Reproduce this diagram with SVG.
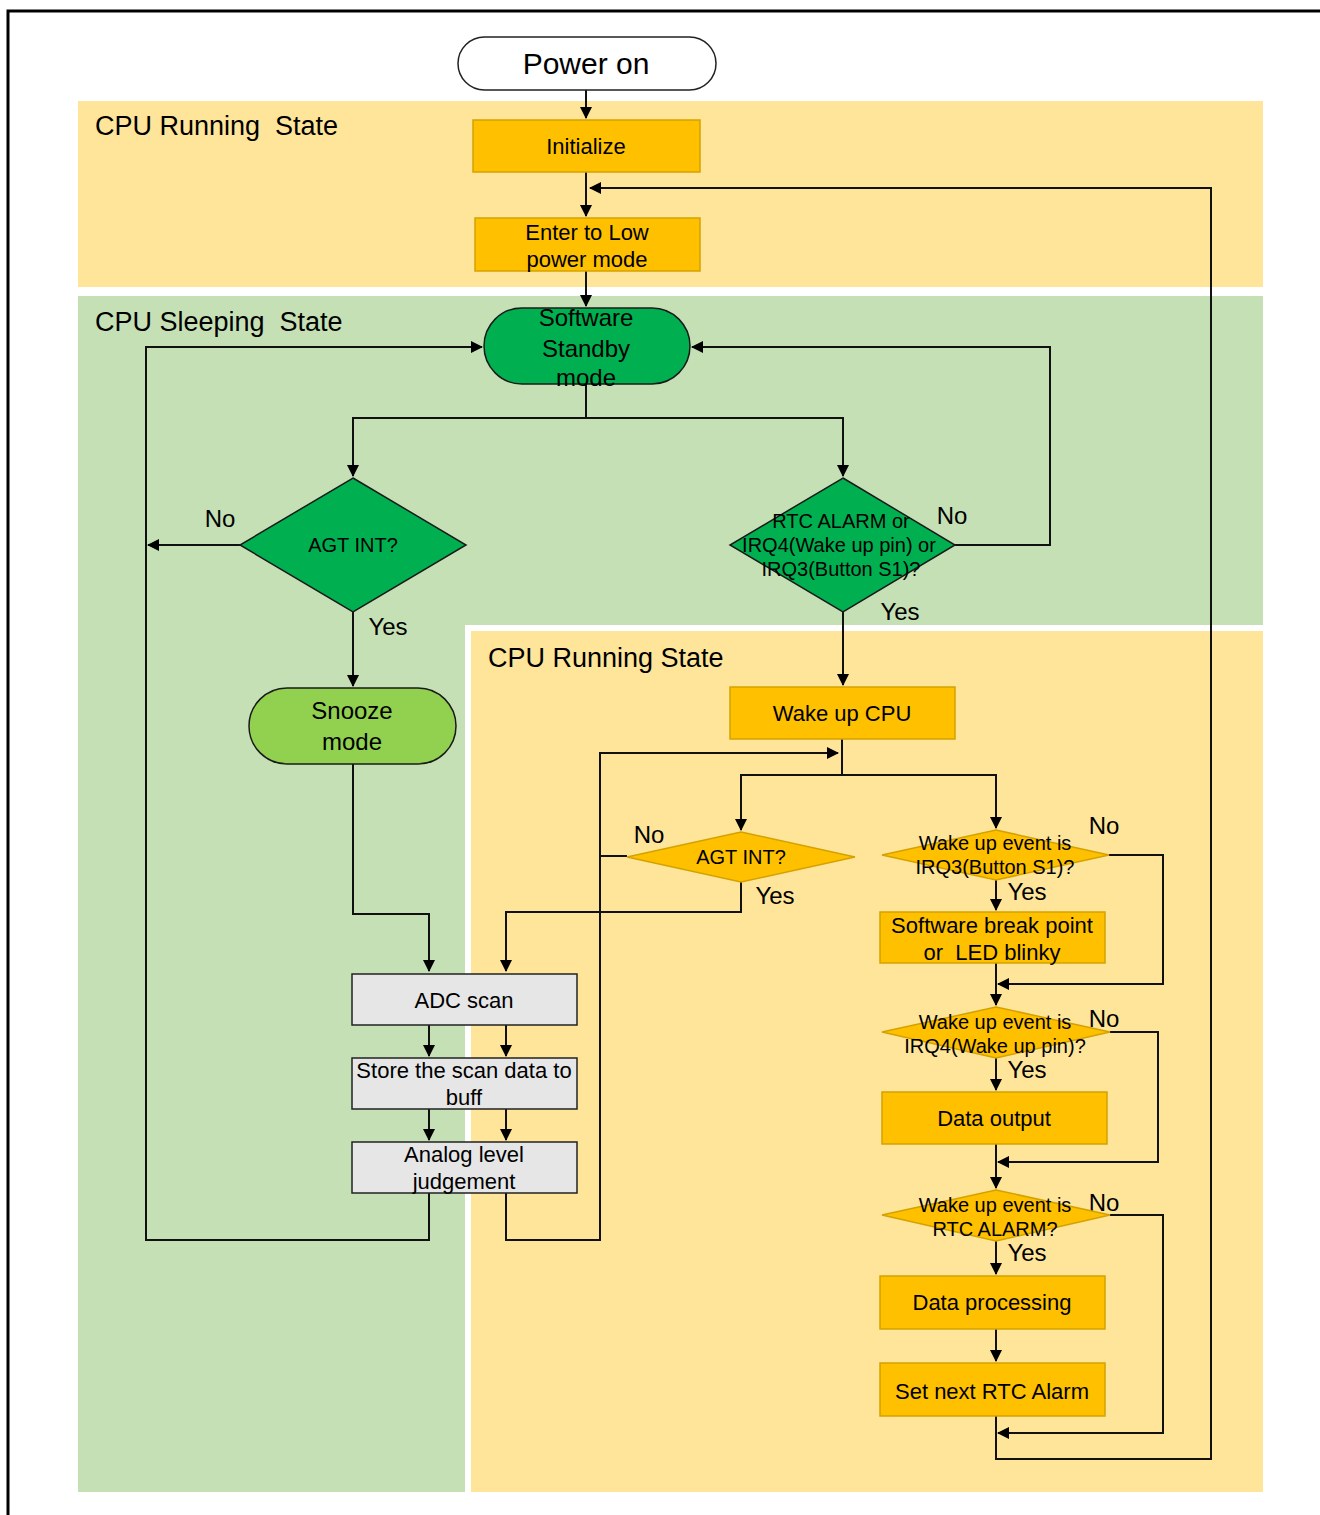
<svg xmlns="http://www.w3.org/2000/svg" width="1320" height="1515" viewBox="0 0 1320 1515">
<style>
text{font-family:"Liberation Sans",Arial,sans-serif;fill:#000;text-anchor:middle;dominant-baseline:central;white-space:pre}
.sec{font-size:27px;text-anchor:start}
.lbl{font-size:24px}
.box{font-size:22px}
.dia{font-size:20px}
.gold{fill:#FFC000;stroke:#D4A200;stroke-width:1.5}
.grey{fill:#E6E6E6;stroke:#222;stroke-width:1.5}
.green{fill:#00B050;stroke:#1a1a1a;stroke-width:1.5}
.lg{fill:#92D050;stroke:#1a1a1a;stroke-width:1.5}
.con path{fill:none;stroke:#111;stroke-width:2}
.arr{marker-end:url(#ah)}
</style>
<defs>
<marker id="ah" markerUnits="userSpaceOnUse" markerWidth="12" markerHeight="12" viewBox="0 0 12 12" refX="11" refY="6" orient="auto">
<path d="M0,0 L12,6 L0,12 Z" fill="#000"/>
</marker>
</defs>
<rect width="1320" height="1515" fill="#fff"/>
<g id="backgrounds">
<rect x="78" y="101" width="1185" height="186" fill="#FFE599"/>
<rect x="78" y="296" width="1185" height="329" fill="#C5E0B4"/>
<rect x="78" y="625" width="387" height="867" fill="#C5E0B4"/>
<rect x="471" y="631" width="792" height="861" fill="#FFE599"/>
<text class="sec" x="95" y="126" xml:space="preserve">CPU Running  State</text>
<text class="sec" x="95" y="322" xml:space="preserve">CPU Sleeping  State</text>
<text class="sec" x="488" y="658">CPU Running State</text>
</g>
<path d="M8,1515 V11 H1320" fill="none" stroke="#000" stroke-width="3"/>
<g class="con" id="connectors">
<path class="arr" d="M586,90 V118"/>
<path class="arr" d="M586,172 V216"/>
<path class="arr" d="M996,1416 V1459 H1211 V188 H590"/>
<path class="arr" d="M586,271 V306"/>
<path d="M586,384 V418"/>
<path class="arr" d="M586,418 H353 V476"/>
<path class="arr" d="M586,418 H843 V476"/>
<path class="arr" d="M240,545 H148"/>
<path class="arr" d="M429,1193 V1240 H146 V347 H482"/>
<path class="arr" d="M353,612 V686"/>
<path class="arr" d="M353,764 V914 H429 V971"/>
<path class="arr" d="M955,545 H1050 V347 H692"/>
<path class="arr" d="M843,612 V685"/>
<path d="M842,739 V775"/>
<path class="arr" d="M842,775 H741 V830"/>
<path class="arr" d="M842,775 H996 V828"/>
<path class="arr" d="M506,1193 V1240 H600 V753 H838"/>
<path d="M627,856 H600"/>
<path class="arr" d="M741,882 V912 H506 V971"/>
<path class="arr" d="M429,1025 V1056"/>
<path class="arr" d="M506,1025 V1056"/>
<path class="arr" d="M429,1109 V1140"/>
<path class="arr" d="M506,1109 V1140"/>
<path class="arr" d="M996,880 V910"/>
<path class="arr" d="M1109,855 H1163 V984 H998"/>
<path class="arr" d="M996,963 V1005"/>
<path class="arr" d="M1110,1032 H1158 V1162 H998"/>
<path class="arr" d="M996,1058 V1090"/>
<path class="arr" d="M996,1144 V1188"/>
<path class="arr" d="M1110,1215 H1163 V1433 H998"/>
<path class="arr" d="M996,1241 V1274"/>
<path class="arr" d="M996,1329 V1361"/>
<text class="lbl" x="220" y="518">No</text>
<text class="lbl" x="388" y="626">Yes</text>
<text class="lbl" x="952" y="515">No</text>
<text class="lbl" x="900" y="611">Yes</text>
<text class="lbl" x="649" y="834">No</text>
<text class="lbl" x="775" y="895">Yes</text>
<text class="lbl" x="1104" y="825">No</text>
<text class="lbl" x="1027" y="891">Yes</text>
<text class="lbl" x="1104" y="1018">No</text>
<text class="lbl" x="1027" y="1069">Yes</text>
<text class="lbl" x="1104" y="1202">No</text>
<text class="lbl" x="1027" y="1252">Yes</text>
</g>
<g id="power-on">
<rect x="458" y="37" width="258" height="53" rx="26.5" fill="#fff" stroke="#222" stroke-width="1.5"/>
<text x="586" y="63" style="font-size:30px">Power on</text>
</g>
<g id="initialize">
<rect class="gold" x="473" y="120" width="227" height="52"/>
<text class="box" x="586" y="146">Initialize</text>
</g>
<g id="enter-low-power">
<rect class="gold" x="475" y="218" width="225" height="53"/>
<text class="box" x="587" y="232">Enter to Low</text>
<text class="box" x="587" y="259">power mode</text>
</g>
<g id="software-standby">
<rect class="green" x="484" y="308" width="206" height="76" rx="38"/>
<text x="586" y="317" style="font-size:24px">Software</text>
<text x="586" y="348" style="font-size:24px">Standby</text>
<text x="586" y="377" style="font-size:24px">mode</text>
</g>
<g id="agt-int-1">
<polygon class="green" points="353,478 466,545 353,612 240,545"/>
<text class="dia" x="353" y="545">AGT INT?</text>
</g>
<g id="rtc-alarm-decision">
<polygon class="green" points="843,478 955,545 843,612 730,545"/>
<text class="dia" x="841" y="521">RTC ALARM or</text>
<text class="dia" x="839" y="545">IRQ4(Wake up pin) or</text>
<text class="dia" x="841" y="569">IRQ3(Button S1)?</text>
</g>
<g id="snooze">
<rect class="lg" x="249" y="688" width="207" height="76" rx="38"/>
<text x="352" y="710" style="font-size:24px">Snooze</text>
<text x="352" y="741" style="font-size:24px">mode</text>
</g>
<g id="wake-up-cpu">
<rect class="gold" x="730" y="687" width="225" height="52"/>
<text class="box" x="842" y="713">Wake up CPU</text>
</g>
<g id="agt-int-2">
<polygon class="gold" points="741,832 855,857 741,882 627,857"/>
<text class="dia" x="741" y="857">AGT INT?</text>
</g>
<g id="wake-irq3">
<polygon class="gold" points="996,830 1109,855 996,880 882,855"/>
<text class="dia" x="995" y="843">Wake up event is</text>
<text class="dia" x="995" y="867">IRQ3(Button S1)?</text>
</g>
<g id="sw-break">
<rect class="gold" x="880" y="912" width="225" height="51"/>
<text class="box" x="992" y="925">Software break point</text>
<text class="box" x="992" y="952" xml:space="preserve">or  LED blinky</text>
</g>
<g id="wake-irq4">
<polygon class="gold" points="996,1007 1110,1032 996,1058 882,1032"/>
<text class="dia" x="995" y="1022">Wake up event is</text>
<text class="dia" x="995" y="1046">IRQ4(Wake up pin)?</text>
</g>
<g id="data-output">
<rect class="gold" x="882" y="1092" width="225" height="52"/>
<text class="box" x="994" y="1118">Data output</text>
</g>
<g id="wake-rtc">
<polygon class="gold" points="996,1190 1110,1215 996,1241 882,1215"/>
<text class="dia" x="995" y="1205">Wake up event is</text>
<text class="dia" x="995" y="1229">RTC ALARM?</text>
</g>
<g id="data-processing">
<rect class="gold" x="880" y="1276" width="225" height="53"/>
<text class="box" x="992" y="1302">Data processing</text>
</g>
<g id="set-rtc">
<rect class="gold" x="880" y="1363" width="225" height="53"/>
<text class="box" x="992" y="1391">Set next RTC Alarm</text>
</g>
<g id="adc-scan">
<rect class="grey" x="352" y="974" width="225" height="51"/>
<text class="box" x="464" y="1000">ADC scan</text>
</g>
<g id="store-buff">
<rect class="grey" x="352" y="1058" width="225" height="51"/>
<text class="box" x="464" y="1070">Store the scan data to</text>
<text class="box" x="464" y="1097">buff</text>
</g>
<g id="analog-judge">
<rect class="grey" x="352" y="1142" width="225" height="51"/>
<text class="box" x="464" y="1154">Analog level</text>
<text class="box" x="464" y="1181">judgement</text>
</g>
</svg>
